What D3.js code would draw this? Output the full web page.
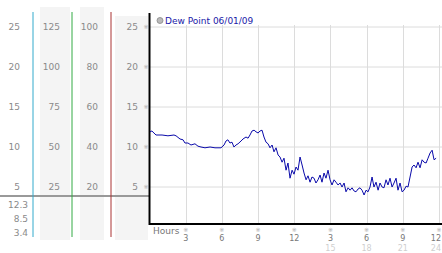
<!DOCTYPE html>
<html>
<head>
<meta charset="utf-8">
<script src="https://cdn.jsdelivr.net/npm/d3@7"></script>
<style>
body{margin:0;background:#fff}
text{font-family:"DejaVu Sans",sans-serif}
</style>
</head>
<body>
<svg id="chart" width="442" height="253"></svg>
<script>
var hours = [0.04,0.2,0.54,1.04,1.53,2.03,2.2,2.53,2.78,2.94,3.19,3.44,3.77,4.02,4.27,4.6,5.02,5.43,5.93,6.18,
    6.34,6.5,6.67,6.84,7.0,7.17,7.34,7.59,7.75,8.0,8.17,8.33,8.5,8.67,8.83,9.0,9.16,9.33,9.49,9.66,
    9.83,9.99,10.16,10.32,10.49,10.66,10.82,10.99,11.15,11.32,11.48,11.65,11.82,11.98,12.15,12.31,12.48,12.65,12.81,12.98,
    13.14,13.31,13.47,13.64,13.8,13.97,14.14,14.3,14.47,14.63,14.8,14.97,15.13,15.3,15.46,15.63,15.8,15.96,16.13,16.29,
    16.46,16.63,16.79,16.96,17.12,17.29,17.45,17.62,17.79,17.95,18.12,18.28,18.45,18.61,18.78,18.95,19.11,19.28,19.44,19.61,
    19.77,19.94,20.11,20.27,20.44,20.6,20.77,20.94,21.1,21.27,21.43,21.6,21.77,21.93,22.1,22.26,22.43,22.6,22.76,22.93,
    23.09,23.26,23.43,23.59,23.76]
var dewPoint = [11.9,12.0,11.5,11.5,11.4,11.5,11.4,11.0,10.9,10.5,10.5,10.25,10.4,10.1,10.0,9.9,10.0,9.9,9.9,10.25,
    10.75,10.9,10.5,10.6,10.0,10.25,10.4,10.75,11.0,11.25,11.1,11.5,12.0,12.1,11.9,11.75,12.0,12.1,11.25,10.6,
    10.4,9.9,10.25,9.4,9.9,9.0,8.75,8.1,8.6,7.1,8.0,6.1,7.1,6.6,7.5,7.1,8.75,7.75,6.75,5.9,
    6.4,5.6,6.25,6.1,5.5,5.9,6.5,5.6,6.75,6.1,7.1,5.9,5.25,5.9,5.6,5.25,5.5,5.0,5.5,4.4,
    4.9,4.6,4.9,4.5,4.4,4.75,4.9,4.6,4.0,4.6,4.4,5.0,6.25,5.0,5.6,4.6,5.5,5.0,4.9,5.9,
    5.25,6.1,5.0,5.5,6.1,4.6,5.5,4.4,4.6,5.1,5.0,6.25,7.5,7.75,7.4,8.1,7.4,8.4,8.1,8.0,
    8.6,9.25,9.6,8.4,8.6]
var celsiusTicks = [25, 20, 15, 10, 5]
var col2Ticks = [125, 100, 75, 50, 25]
var col3Ticks = [100, 80, 60, 40, 20]
var statLabels = ['12.3', '8.5', '3.4']
var hourTicks = [3, 6, 9, 12, 15, 18, 21, 24]
var legendText = 'Dew Point 06/01/09'

var svg = d3.select('#chart')
var plot = {left: 149.5, right: 442, top: 13, bottom: 224}

var xscale = d3.scaleLinear().domain([0, 24]).range([plot.left, 439])
var yscale = d3.scaleLinear().domain([0, 25]).range([227, 27])

// left side scale columns
var bg = [[40, 30, 7], [80, 24, 7], [115, 33, 16]]
bg.forEach(function (b) {
    svg.append('rect').attr('x', b[0]).attr('y', b[2]).attr('width', b[1])
        .attr('height', 240 - b[2]).attr('fill', '#f4f4f4')
})
var cols = [
    {ticks: celsiusTicks, x: 20},
    {ticks: col2Ticks, x: 60},
    {ticks: col3Ticks, x: 98},
    {ticks: celsiusTicks, x: 138}
]
cols.forEach(function (c) {
    svg.append('g').selectAll('text').data(c.ticks).enter().append('text')
        .attr('x', c.x)
        .attr('y', function (d, i) { return yscale(celsiusTicks[i]) })
        .attr('dy', '0.36em')
        .attr('text-anchor', 'end')
        .attr('font-size', 9)
        .attr('fill', '#8a8a8a')
        .text(function (d) { return d })
})
svg.append('g').selectAll('text').data(celsiusTicks).enter().append('text')
    .attr('x', 146).attr('y', function (d) { return yscale(d) })
    .attr('dy', '0.3em').attr('text-anchor', 'middle')
    .attr('font-size', 6).attr('fill', '#aaa').text('※')

svg.append('line').attr('x1', 0).attr('x2', plot.left).attr('y1', 196).attr('y2', 196)
    .attr('stroke', '#999').attr('stroke-width', 2)
svg.append('g').selectAll('text').data(statLabels).enter().append('text')
    .attr('x', 28).attr('y', function (d, i) { return 208 + i * 14 })
    .attr('text-anchor', 'end').attr('font-size', 9).attr('fill', '#8a8a8a')
    .text(function (d) { return d })

var sep = [[33, '#33aacc'], [72, '#33aa44'], [111, '#aa3333']]
sep.forEach(function (s) {
    svg.append('line').attr('x1', s[0]).attr('x2', s[0]).attr('y1', 12).attr('y2', 237)
        .attr('stroke', s[1]).attr('stroke-width', 1)
})

// grid
svg.append('g').selectAll('line').data(celsiusTicks).enter().append('line')
    .attr('x1', plot.left).attr('x2', plot.right)
    .attr('y1', function (d) { return yscale(d) }).attr('y2', function (d) { return yscale(d) })
    .attr('stroke', '#dcdcdc')
svg.append('g').selectAll('line').data(hourTicks).enter().append('line')
    .attr('x1', function (d) { return Math.round(xscale(d)) + 0.5 })
    .attr('x2', function (d) { return Math.round(xscale(d)) + 0.5 })
    .attr('y1', 25).attr('y2', plot.bottom)
    .attr('stroke', '#dcdcdc')

// axes frame
svg.append('line').attr('x1', plot.left).attr('x2', plot.left).attr('y1', plot.top).attr('y2', plot.bottom + 1)
    .attr('stroke', '#000').attr('stroke-width', 2)
svg.append('line').attr('x1', plot.left).attr('x2', plot.right).attr('y1', plot.bottom).attr('y2', plot.bottom)
    .attr('stroke', '#000').attr('stroke-width', 2)

// x labels
svg.append('text').text('Hours').attr('x', 153).attr('y', 234)
    .attr('font-size', 9).attr('fill', '#777')
var last = hourTicks[hourTicks.length - 1]
var xt = svg.append('g').selectAll('g').data(hourTicks).enter().append('g')
    .attr('transform', function (d) { return 'translate(' + xscale(d) + ',0)' })
xt.append('text').attr('y', 232).attr('text-anchor', 'middle')
    .attr('font-size', 6).attr('fill', '#aaa').text('※')
xt.append('text').attr('y', 241)
    .attr('x', function (d) { return d == last ? 2 : 0 })
    .attr('text-anchor', function (d) { return d == last ? 'end' : 'middle' })
    .attr('font-size', 8).attr('fill', '#777')
    .text(function (d) { return d > 12 ? d - 12 : d })
xt.filter(function (d) { return d > 12 }).append('text').attr('y', 251)
    .attr('x', function (d) { return d == last ? 2 : 0 })
    .attr('text-anchor', function (d) { return d == last ? 'end' : 'middle' })
    .attr('font-size', 8).attr('fill', '#cfcfcf')
    .text(function (d) { return d })

// legend
svg.append('circle').attr('cx', 160).attr('cy', 20.5).attr('r', 3)
    .attr('fill', '#bbb').attr('stroke', '#888').attr('stroke-width', 0.8)
svg.append('text').text(legendText).attr('x', 165).attr('y', 24)
    .attr('font-size', 9).attr('fill', '#2020a8')

// series
var line = d3.line()
    .x(function (d, i) { return xscale(hours[i]) })
    .y(function (d) { return yscale(d) })
svg.append('path').datum(dewPoint).attr('d', line)
    .attr('fill', 'none').attr('stroke', '#0a0aaa').attr('stroke-width', 1)
</script>
</body>
</html>
